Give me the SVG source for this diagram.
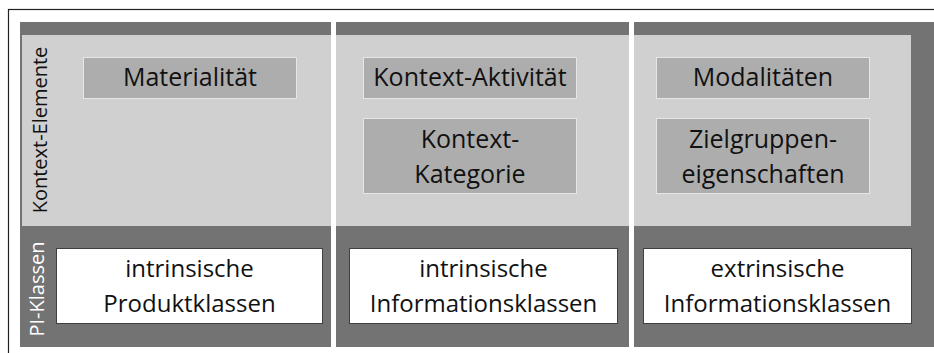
<svg xmlns="http://www.w3.org/2000/svg" width="934" height="353" viewBox="0 0 934 353">
  <style>
    .dark { fill: #737373; }
    .light { fill: #d0d0d0; }
    .ctx { fill: #adadad; stroke: #e6e6e6; stroke-width: 1; }
    .cls { fill: #ffffff; stroke: #404040; stroke-width: 1; }
    .t { font-family: "Open Sans", "Noto Sans", sans-serif; font-size: 25px; fill: #111111; text-anchor: middle; }
    .tw { font-size: 24px; }
    .side { font-family: "Open Sans", "Noto Sans", sans-serif; font-size: 20px; text-anchor: middle; }
  </style>
  <rect x="0" y="0" width="934" height="353" fill="#ffffff"/>
  <rect x="8.5" y="9.5" width="940" height="360" fill="none" stroke="#222222" stroke-width="1.2"/>

  <g id="panel-1">
    <rect class="dark" x="20" y="22" width="311" height="325"/>
    <rect class="light" x="22" y="35" width="309" height="191"/>
  </g>
  <g id="panel-2">
    <rect class="dark" x="336" y="22" width="293" height="325"/>
    <rect class="light" x="336" y="35" width="293" height="191"/>
  </g>
  <g id="panel-3">
    <rect class="dark" x="634" y="22" width="300" height="325"/>
    <rect class="light" x="634" y="35" width="277" height="191"/>
  </g>

  <g id="label-kontext-elemente">
    <text class="side" fill="#111111" transform="translate(47,130) rotate(-90)">Kontext-Elemente</text>
  </g>
  <g id="label-pi-klassen">
    <text class="side" fill="#ffffff" transform="translate(44,289) rotate(-90)">PI-Klassen</text>
  </g>

  <g id="materialitaet">
    <rect class="ctx" x="83.5" y="57.5" width="213" height="41"/>
    <text class="t" x="190" y="86">Materialität</text>
  </g>
  <g id="kontext-aktivitaet">
    <rect class="ctx" x="363.5" y="57.5" width="213" height="41"/>
    <text class="t" x="470" y="86">Kontext-Aktivität</text>
  </g>
  <g id="kontext-kategorie">
    <rect class="ctx" x="363.5" y="118.5" width="213" height="75"/>
    <text class="t" x="470" y="148">Kontext-</text>
    <text class="t" x="470" y="183">Kategorie</text>
  </g>
  <g id="modalitaeten">
    <rect class="ctx" x="656.5" y="57.5" width="213" height="41"/>
    <text class="t" x="763" y="86">Modalitäten</text>
  </g>
  <g id="zielgruppeneigenschaften">
    <rect class="ctx" x="656.5" y="118.5" width="213" height="75"/>
    <text class="t" x="763" y="148">Zielgruppen-</text>
    <text class="t" x="763" y="183">eigenschaften</text>
  </g>

  <g id="intrinsische-produktklassen">
    <rect class="cls" x="56.5" y="248.5" width="266" height="75"/>
    <text class="t tw" x="189.5" y="277">intrinsische</text>
    <text class="t tw" x="189.5" y="312">Produktklassen</text>
  </g>
  <g id="intrinsische-informationsklassen">
    <rect class="cls" x="349.5" y="248.5" width="268" height="75"/>
    <text class="t tw" x="483.5" y="277">intrinsische</text>
    <text class="t tw" x="483.5" y="312">Informationsklassen</text>
  </g>
  <g id="extrinsische-informationsklassen">
    <rect class="cls" x="643.5" y="248.5" width="268" height="75"/>
    <text class="t tw" x="777.5" y="277">extrinsische</text>
    <text class="t tw" x="777.5" y="312">Informationsklassen</text>
  </g>
</svg>
